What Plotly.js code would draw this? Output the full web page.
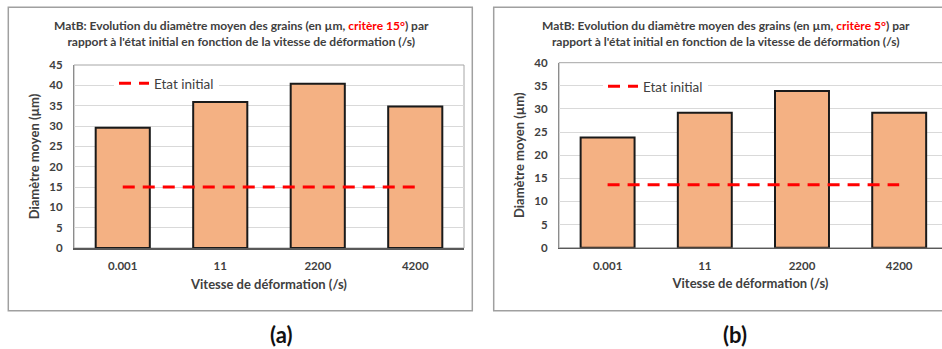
<!DOCTYPE html>
<html>
<head>
<meta charset="utf-8">
<script src="https://cdn.plot.ly/plotly-3.0.1.min.js"></script>
<style>html,body{margin:0;padding:0;background:#fff;}#chart{width:942px;height:349px;}</style>
</head>
<body>
<div id="chart"></div>
<script>
// ---- data ----
const categories = ['0.001', '11', '2200', '4200'];
const diamA = [29.6, 35.9, 40.4, 34.8];      // critère 15°
const initialA = [15, 15, 15, 15];
const diamB = [23.8, 29.2, 33.9, 29.2];      // critère 5°
const initialB = [13.6, 13.6, 13.6, 13.6];
const yTicksA = [0, 5, 10, 15, 20, 25, 30, 35, 40, 45];
const yTicksB = [0, 5, 10, 15, 20, 25, 30, 35, 40];
const legendName = 'Etat initial';
const titleA = "MatB: Evolution du diamètre moyen des grains (en µm, <span style='color:#ff0000'>critère 15°</span>) par<br>rapport à l'état initial en fonction de la vitesse de déformation (/s)";
const titleB = "MatB: Evolution du diamètre moyen des grains (en µm, <span style='color:#ff0000'>critère 5°</span>) par<br>rapport à l'état initial en fonction de la vitesse de déformation (/s)";
const xTitle = 'Vitesse de déformation (/s)';
const yTitle = 'Diamètre moyen (µm)';

const W = 942, H = 349;
const FONT = 'Lato, "Open Sans", sans-serif';
const TXT = '#404040';
const px = v => v / W;
const py = v => 1 - v / H;

const barStyle = {color: '#f4b183', line: {color: '#1a1a1a', width: 2}};
const dashStyle = {color: '#ff0000', width: 3, dash: '12px,8px'};

const traces = [
  {type: 'bar', x: categories, y: diamA, xaxis: 'x', yaxis: 'y', marker: barStyle, showlegend: false, hoverinfo: 'x+y'},
  {type: 'scatter', mode: 'lines', x: categories, y: initialA, xaxis: 'x', yaxis: 'y', line: dashStyle, name: legendName, legend: 'legend'},
  {type: 'bar', x: categories, y: diamB, xaxis: 'x2', yaxis: 'y2', marker: barStyle, showlegend: false, hoverinfo: 'x+y'},
  {type: 'scatter', mode: 'lines', x: categories, y: initialB, xaxis: 'x2', yaxis: 'y2', line: dashStyle, name: legendName, legend: 'legend2'}
];

function xAxis(domain, range, anchor) {
  return {
    domain: domain, anchor: anchor, type: 'category', range: range,
    showgrid: false, zeroline: false, fixedrange: true,
    showline: true, linecolor: '#595959', linewidth: 1.5,
    ticks: 'outside', ticklen: 7, tickcolor: 'rgba(0,0,0,0)',
    tickfont: {family: FONT, size: 11.5, color: TXT, weight: 'bold'},
    title: {text: xTitle, standoff: 8, font: {family: FONT, size: 13, color: TXT, weight: 'bold'}}
  };
}
function yAxis(domain, max, ticks, anchor) {
  return {
    domain: domain, anchor: anchor, range: [0, max], tickvals: ticks, fixedrange: true,
    showgrid: true, gridcolor: '#d9d9d9', gridwidth: 1, zeroline: false,
    showline: true, linecolor: '#8c8c8c', linewidth: 1,
    ticks: 'outside', ticklen: 8, tickcolor: 'rgba(0,0,0,0)',
    tickfont: {family: FONT, size: 11.5, color: TXT, weight: 'bold'},
    title: {text: yTitle, standoff: 6, font: {family: FONT, size: 13, color: TXT, weight: 'bold'}}
  };
}

const layout = {
  width: W, height: H, autosize: false,
  margin: {l: 0, r: 0, t: 0, b: 0, pad: 0},
  paper_bgcolor: '#ffffff', plot_bgcolor: '#ffffff',
  bargap: 0.445,
  xaxis: xAxis([px(74), px(464)], [-0.5, 3.5], 'y'),
  yaxis: yAxis([py(248), py(65)], 45, yTicksA, 'x'),
  xaxis2: xAxis([px(559), 1], [-0.5, 3.5 - (559 + 4 * 97.2 - W) / 97.2], 'y2'),
  yaxis2: yAxis([py(247.7), py(62.7)], 40, yTicksB, 'x2'),
  legend: {x: px(114), y: py(68), xanchor: 'left', yanchor: 'top', bgcolor: '#ffffff', borderwidth: 0,
           font: {family: FONT, size: 13.5, color: TXT}, entrywidth: 115},
  legend2: {x: px(603), y: py(71), xanchor: 'left', yanchor: 'top', bgcolor: '#ffffff', borderwidth: 0,
            font: {family: FONT, size: 13.5, color: TXT}, entrywidth: 115},
  shapes: [
    {type: 'rect', xref: 'paper', yref: 'paper', x0: px(8.3), x1: px(472.3), y0: py(310.7), y1: py(7.3),
     line: {color: '#a0a0a0', width: 1.5}, fillcolor: 'rgba(0,0,0,0)', layer: 'below'},
    {type: 'rect', xref: 'paper', yref: 'paper', x0: px(493.7), x1: px(990), y0: py(310.7), y1: py(7.3),
     line: {color: '#a0a0a0', width: 1.5}, fillcolor: 'rgba(0,0,0,0)', layer: 'below'},
    {type: 'rect', xref: 'x domain', yref: 'y domain', x0: 0, x1: 1, y0: 0, y1: 1,
     line: {color: '#a6a6a6', width: 1}, fillcolor: 'rgba(0,0,0,0)', layer: 'below'},
    {type: 'rect', xref: 'x2 domain', yref: 'y2 domain', x0: 0, x1: 1.05, y0: 0, y1: 1,
     line: {color: '#a6a6a6', width: 1}, fillcolor: 'rgba(0,0,0,0)', layer: 'below'}
  ],
  annotations: [
    {text: titleA, xref: 'paper', yref: 'paper', x: px(241), y: py(33), xanchor: 'center', yanchor: 'middle',
     showarrow: false, align: 'center', font: {family: FONT, size: 12, color: TXT, weight: 'bold'}},
    {text: titleB, xref: 'paper', yref: 'paper', x: px(726), y: py(33), xanchor: 'center', yanchor: 'middle',
     showarrow: false, align: 'center', font: {family: FONT, size: 12, color: TXT, weight: 'bold'}},
    {text: '(a)', xref: 'paper', yref: 'paper', x: px(281), y: py(334), xanchor: 'center', yanchor: 'middle',
     showarrow: false, font: {family: FONT, size: 22, color: '#111111', weight: 'bold'}},
    {text: '(b)', xref: 'paper', yref: 'paper', x: px(735), y: py(334), xanchor: 'center', yanchor: 'middle',
     showarrow: false, font: {family: FONT, size: 22, color: '#111111', weight: 'bold'}}
  ]
};

Plotly.newPlot('chart', traces, layout, {displayModeBar: false, staticPlot: true});
</script>
</body>
</html>
